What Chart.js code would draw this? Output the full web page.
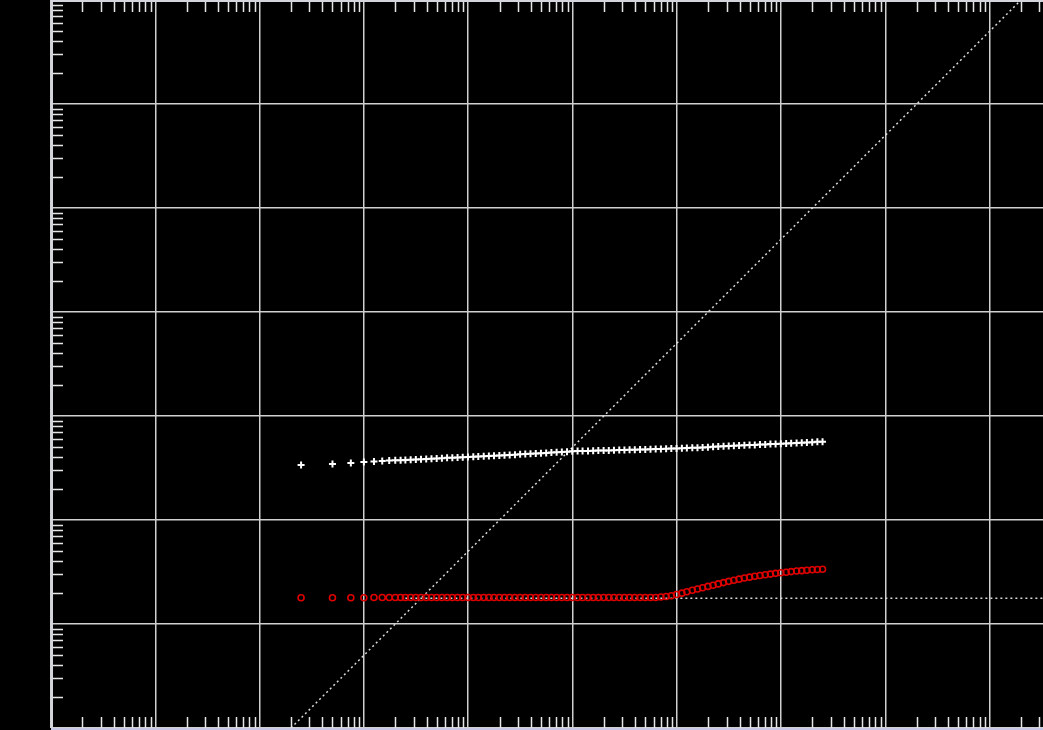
<!DOCTYPE html>
<html><head><meta charset="utf-8">
<script src="https://cdn.jsdelivr.net/npm/chart.js@4.4.0/dist/chart.umd.min.js"></script>
<style>html,body{margin:0;padding:0;background:#000;overflow:hidden}canvas{display:block}</style>
</head><body>
<canvas id="c" width="1043" height="730"></canvas>
<script>
// ---- data ----
const xValues = [0.25, 0.5, 0.75, 1, 1.25, 1.5, 1.75, 2, 2.25,
  2.5, 2.81, 3.15, 3.53, 3.96, 4.45, 4.99, 5.6, 6.28, 7.05, 7.91, 8.87, 9.95, 11.2, 12.5, 14.1, 15.8, 17.7, 19.9, 22.3,
  25, 28.1, 31.5, 35.3, 39.6, 44.5, 49.9, 56, 62.8, 70.5, 79.1, 88.7, 99.5, 112, 125, 141, 158, 177, 199, 223,
  250, 281, 315, 353, 396, 445, 499, 560, 628, 705, 791, 887, 995, 1120, 1250, 1410, 1580, 1770, 1990, 2230,
  2500, 2810, 3150, 3530, 3960, 4450, 4990, 5600, 6280, 7050, 7910, 8870, 9950, 11200, 12500, 14100, 15800, 17700, 19900, 22300,
  25000];
const whiteValues = [338, 345, 353, 361, 365, 369, 373, 375, 376,
  378, 380, 382, 384, 387, 389, 391, 393, 396, 397, 399, 402, 404, 405, 408, 410, 413, 415, 417, 420,
  422, 425, 429, 431, 433, 436, 438, 441, 445, 448, 451, 454, 457, 460, 461, 462, 463, 465, 466, 467,
  468, 470, 471, 473, 474, 476, 477, 479, 481, 482, 484, 487, 488, 490, 492, 494, 495, 499, 502, 505,
  509, 512, 516, 518, 520, 523, 525, 527, 531, 533, 537, 539, 542, 545, 548, 550, 554, 556, 559, 564,
  566];
const redValues = [17.9, 17.9, 17.9, 17.9, 18, 18, 18, 18, 18,
  18, 18, 18, 18, 18, 18, 18, 18, 18, 18, 18, 18, 18, 18, 18, 18, 18, 18, 18, 18,
  18, 18, 18, 18, 18, 18, 18, 18, 18, 18, 18, 18, 18, 18, 18, 18, 18, 18, 18, 18,
  18, 18, 18, 18, 18, 18, 18, 18, 18, 18.2, 18.4, 18.7, 19.2, 19.8, 20.4, 21.1, 21.7, 22.3, 23.0, 23.6,
  24.3, 25.0, 25.7, 26.3, 27.0, 27.7, 28.2, 28.8, 29.3, 29.8, 30.2, 30.7, 31.1, 31.5, 31.9, 32.3, 32.6, 32.9, 33.2, 33.4,
  33.6];
const diagonalX = [0.2, 2e6];
const diagonalY = [1, 1e7];
const plateauX = [2.5, 3.25e6];
const plateauY = [17.7, 17.7];
const xRange = [1e-3, 3.25e6];
const yRange = [1, 1e7];
const xDecades = [1e-3, 1e-2, 1e-1, 1, 10, 100, 1e3, 1e4, 1e5, 1e6];
const yDecades = [1, 10, 100, 1e3, 1e4, 1e5, 1e6, 1e7];
const minorMantissas = [2, 3, 4, 5, 6, 7, 8, 9];

const pts = (xs, ys) => xs.map((x, i) => ({x: x, y: ys[i]}));

const framePlugin = {
  id: 'frame',
  afterDraw(chart) {
    const ctx = chart.ctx, a = chart.chartArea;
    const xs = chart.scales.x, ys = chart.scales.y;
    ctx.save();
    ctx.strokeStyle = '#e6e6e6';
    ctx.lineWidth = 1.5;
    ctx.beginPath();
    xDecades.forEach(d => minorMantissas.forEach(m => {
      const v = d * m;
      if (v > xRange[1]) return;
      const px = Math.round(xs.getPixelForValue(v)) + 0.5;
      ctx.moveTo(px, a.bottom); ctx.lineTo(px, a.bottom - 11);
      ctx.moveTo(px, a.top); ctx.lineTo(px, a.top + 12);
    }));
    yDecades.forEach(d => minorMantissas.forEach(m => {
      const v = d * m;
      if (v > yRange[1]) return;
      const py = Math.round(ys.getPixelForValue(v)) + 0.5;
      ctx.moveTo(a.left, py); ctx.lineTo(a.left + 12, py);
    }));
    ctx.stroke();
    // frame
    ctx.lineWidth = 2;
    ctx.strokeStyle = '#d4d4dc';
    ctx.beginPath();
    ctx.moveTo(a.left + 1, a.top); ctx.lineTo(a.left + 1, a.bottom + 1);
    ctx.moveTo(a.left, a.top + 1); ctx.lineTo(a.right, a.top + 1);
    ctx.stroke();
    ctx.strokeStyle = '#c8c8e6';
    ctx.beginPath();
    ctx.moveTo(a.left, a.bottom + 1); ctx.lineTo(a.right, a.bottom + 1);
    ctx.stroke();
    ctx.restore();
  }
};

new Chart(document.getElementById('c'), {
  type: 'scatter',
  data: {
    datasets: [
      {data: pts(xValues, whiteValues), pointStyle: 'cross', pointRadius: 3.5, borderColor: '#ffffff', borderWidth: 2, showLine: false},
      {data: pts(xValues, redValues), pointStyle: 'circle', pointRadius: 3, borderColor: '#e00000', backgroundColor: 'rgba(0,0,0,0)', borderWidth: 1.6, showLine: false},
      {data: pts(diagonalX, diagonalY), showLine: true, pointRadius: 0, borderColor: '#d8d8d8', borderWidth: 1.5, borderDash: [2, 3]},
      {data: pts(plateauX, plateauY), showLine: true, pointRadius: 0, borderColor: '#d8d8d8', borderWidth: 1.5, borderDash: [2, 3]}
    ]
  },
  options: {
    responsive: false,
    animation: false,
    devicePixelRatio: 1,
    layout: {autoPadding: false, padding: {left: 51, right: 0, top: 0, bottom: 2}},
    plugins: {legend: {display: false}, tooltip: {enabled: false}},
    scales: {
      x: {
        type: 'logarithmic', min: xRange[0], max: xRange[1],
        afterBuildTicks: s => { s.ticks = xDecades.map(v => ({value: v})); },
        ticks: {display: false},
        grid: {color: '#d0d0d0', lineWidth: 1.5, drawTicks: false},
        border: {display: false}
      },
      y: {
        type: 'logarithmic', min: yRange[0], max: yRange[1],
        afterBuildTicks: s => { s.ticks = yDecades.map(v => ({value: v})); },
        ticks: {display: false},
        grid: {color: '#d0d0d0', lineWidth: 1.5, drawTicks: false},
        border: {display: false}
      }
    }
  },
  plugins: [framePlugin]
});
</script>
</body></html>
